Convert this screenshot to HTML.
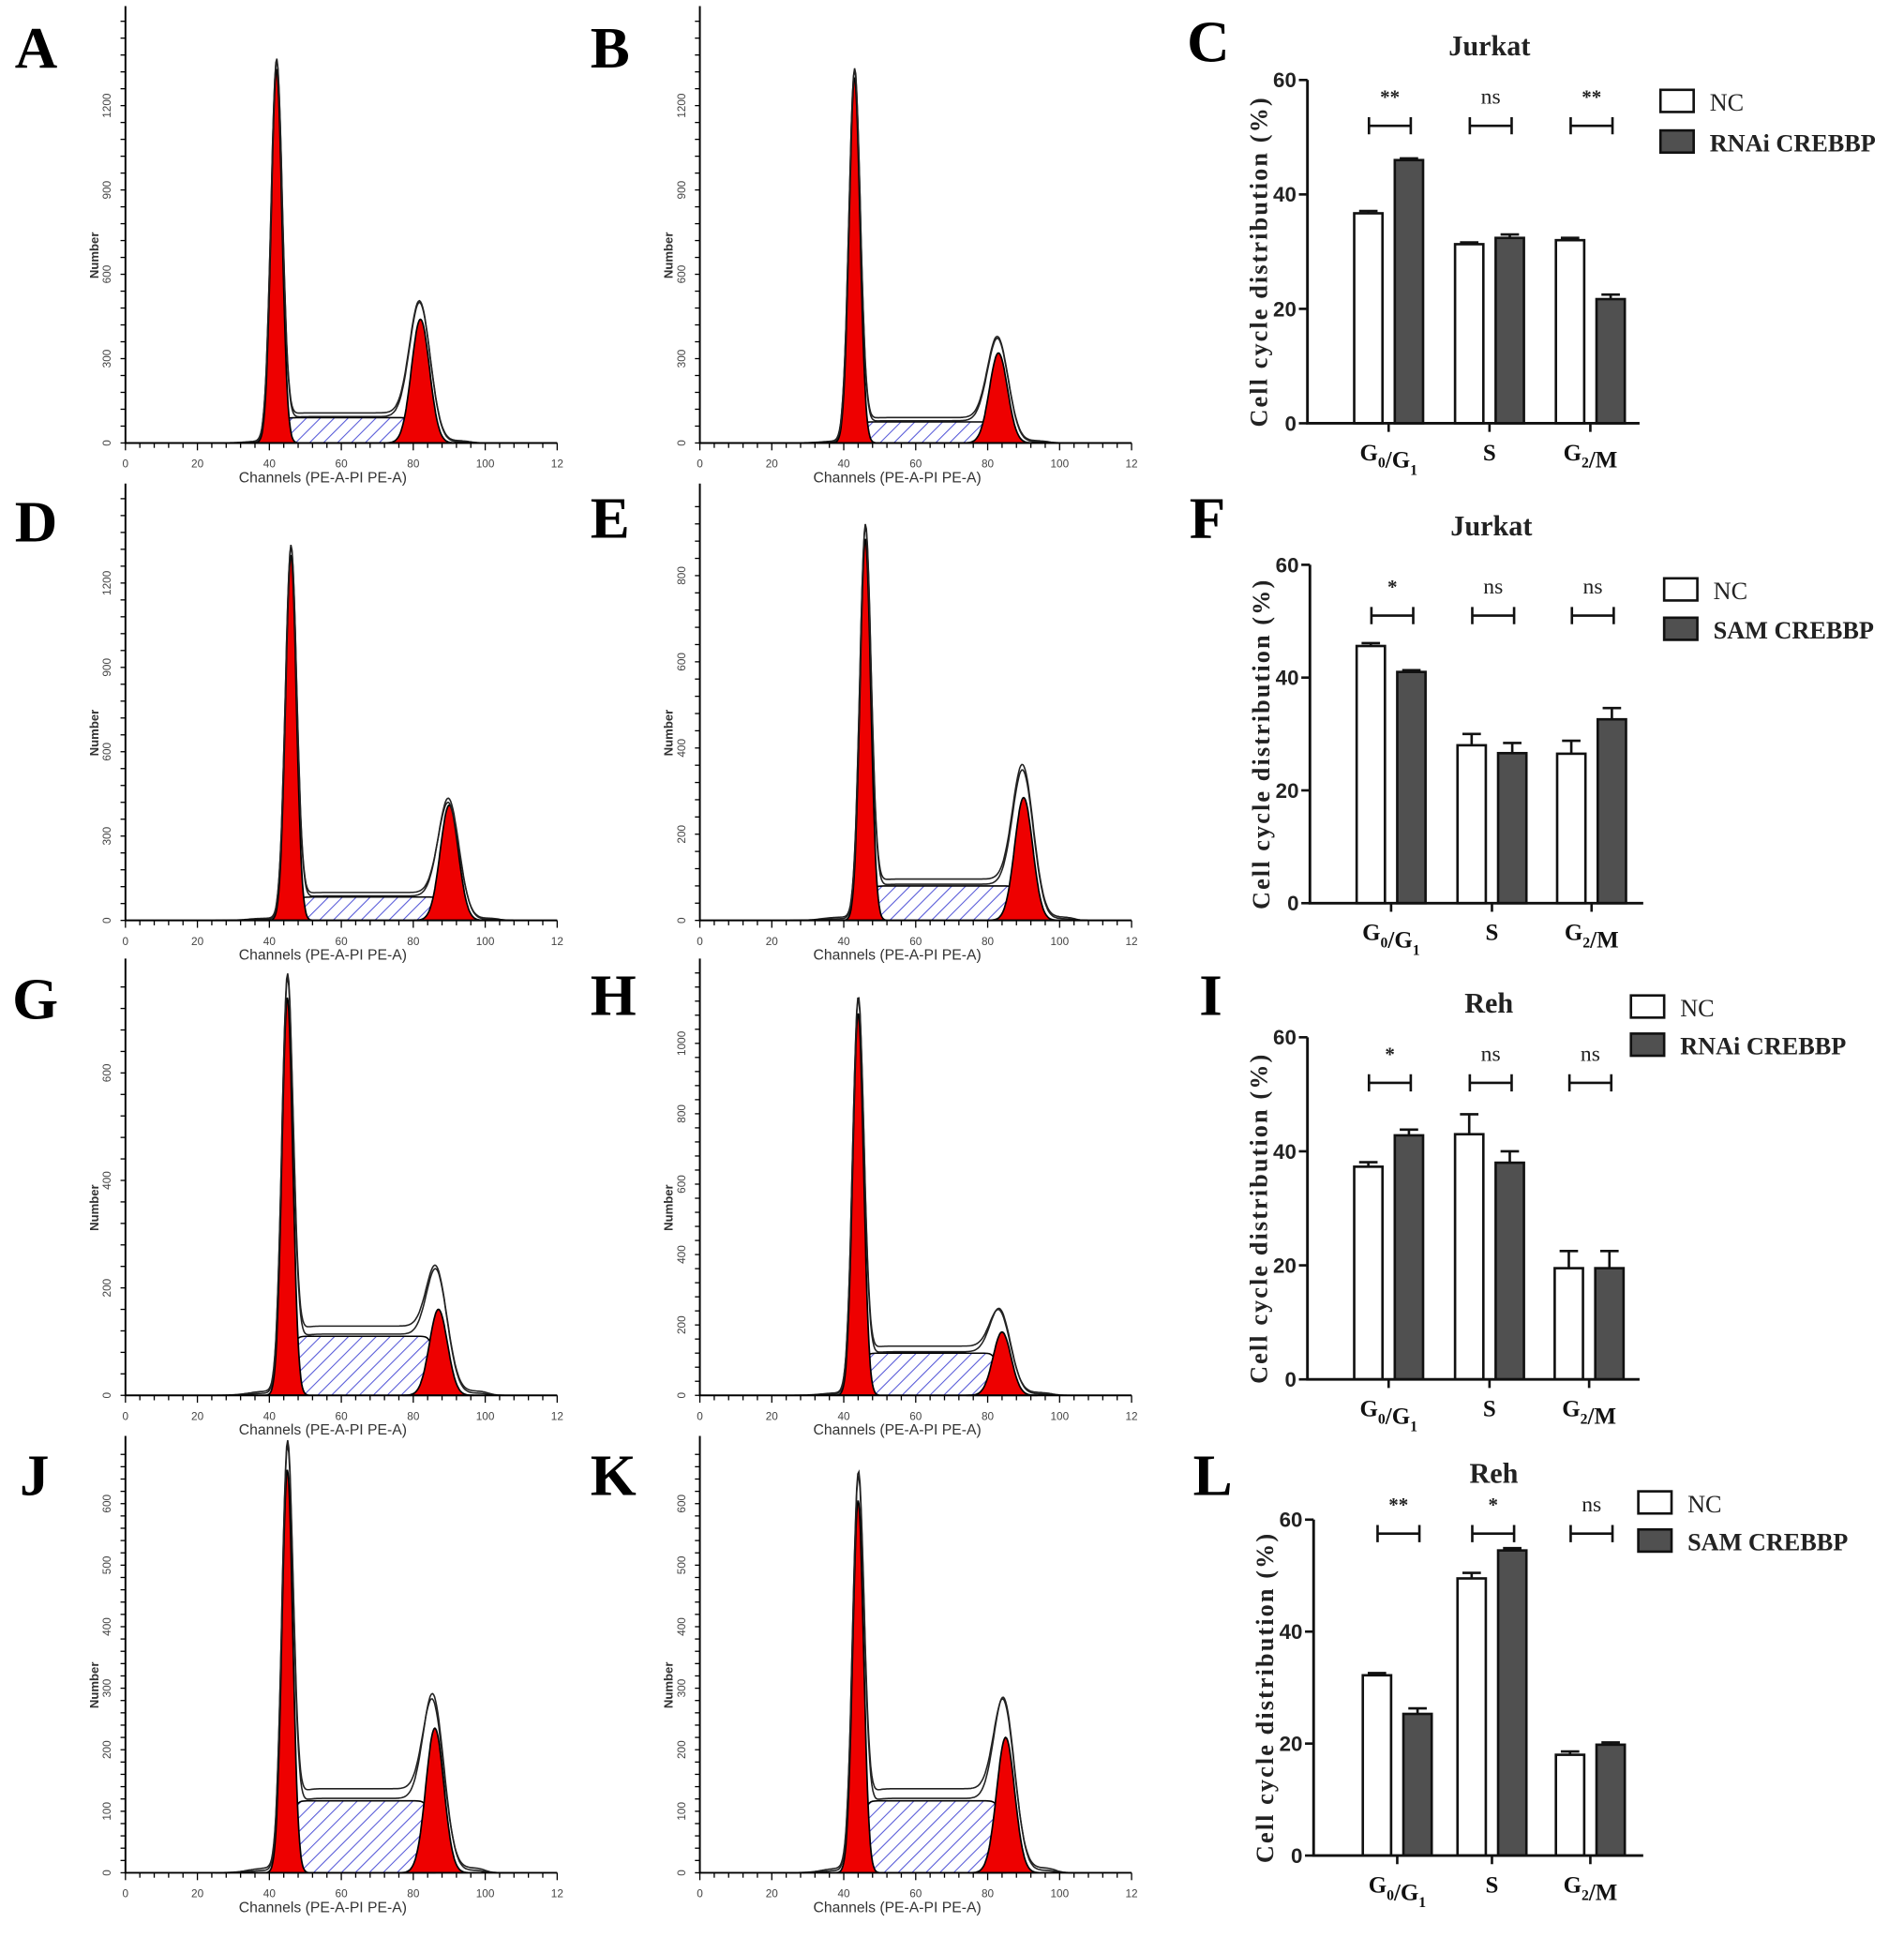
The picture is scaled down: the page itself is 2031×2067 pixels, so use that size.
<!DOCTYPE html>
<html><head><meta charset="utf-8"><style>
html,body{margin:0;padding:0;background:#fff;}
svg{display:block;}
</style></head><body>
<svg id="fig" width="2031" height="2067" viewBox="0 0 1548 1575" preserveAspectRatio="none" xmlns="http://www.w3.org/2000/svg" font-family="Liberation Sans, sans-serif">
<defs>
<pattern id="hatch" patternUnits="userSpaceOnUse" width="8" height="8" patternTransform="rotate(45)">
<rect width="8" height="8" fill="#fff"/><line x1="0" y1="0" x2="0" y2="8" stroke="#5558d8" stroke-width="1.6"/>
</pattern>
</defs>
<rect x="0" y="0" width="1548" height="1575" fill="#fff"/>
</svg>
<script>
// ---------- Histogram data ----------
const histNames = ['A','B','D','E','G','H','J','K'];
const histG1Channel = [42,43,46,46,45,44,45,44];
const histG1Count = [1330,1300,1300,885,740,1085,655,605];
const histG2Channel = [82,83,90,90,87,84,86,85];
const histG2RedCount = [440,320,410,285,160,180,235,220];
const histG2OutlineCount = [545,410,455,395,285,290,330,330];
const histSCount = [90,75,83,80,110,120,117,117];
const histYMax = [1510,1510,1510,985,790,1206,690,690];
const histYTicks = [[0,300,600,900,1200],[0,300,600,900,1200],[0,300,600,900,1200],[0,200,400,600,800],[0,200,400,600],[0,200,400,600,800,1000],[0,100,200,300,400,500,600],[0,100,200,300,400,500,600]];
const histXTicks = [0,20,40,60,80,100,120];

// ---------- Bar chart data ----------
const barPanels = ['C','F','I','L'];
const barTitles = ['Jurkat','Jurkat','Reh','Reh'];
const barLegend2 = ['RNAi CREBBP','SAM CREBBP','RNAi CREBBP','SAM CREBBP'];
const barCategories = ['G0/G1','S','G2/M'];
const ncValues = [[36.7,31.3,32.0],[45.6,28.0,26.5],[37.3,43.0,19.5],[32.2,49.5,18.0]];
const ncErrors = [[0.4,0.3,0.4],[0.5,2.0,2.3],[0.8,3.5,3.0],[0.4,1.0,0.6]];
const trtValues = [[46.0,32.4,21.7],[41.0,26.6,32.6],[42.8,38.0,19.5],[25.3,54.5,19.8]];
const trtErrors = [[0.3,0.6,0.8],[0.3,1.8,2.0],[1.0,2.0,3.0],[1.0,0.4,0.4]];
const sigLabels = [['**','ns','**'],['*','ns','ns'],['*','ns','ns'],['**','*','ns']];
const sigLevel = [52,51,52,57.5];
const barYTicks = [0,20,40,60];

const NS='http://www.w3.org/2000/svg';
const svg=document.getElementById('fig');
function mk(tag,attrs,parent){const e=document.createElementNS(NS,tag);for(const k in attrs)e.setAttribute(k,attrs[k]);(parent||svg).appendChild(e);return e;}
function txt(s,attrs,parent){const e=mk('text',attrs,parent);e.textContent=s;return e;}

const letters=[['A',12,55],['B',480,55],['C',965,50],['D',12,440],['E',480,437],['F',967,437],['G',10,828],['H',480,825],['I',975,825],['J',16,1215],['K',480,1215],['L',970,1215]];
letters.forEach(l=>{
  const t=txt(l[0],{x:l[1],y:l[2],'font-family':'Liberation Serif, serif','font-weight':'bold','font-size':48,fill:'#000'});
  
  
});

// ---------- Histograms ----------
const histX0=[102,569], histBase=[360,748,1134,1522], histW=351, histH=345;
function gauss(x,m,s){return Math.exp(-0.5*((x-m)/s)**2);}
function sig(z){return 1/(1+Math.exp(-z));}
histNames.forEach((name,i)=>{
  const col=i%2, row=Math.floor(i/2);
  const x0=histX0[col], base=histBase[row];
  const g=mk('g',{});
  
  
  const xs=c=>x0+c/120*histW;
  const ys=v=>base-v/histYMax[i]*histH;
  const g1=histG1Channel[i], g2=histG2Channel[i];
  const s1=1.5, s2=2.5;
  let sp=[];
  for(let c=g1;c<=g2+0.01;c+=0.5){sp.push([xs(c),ys(histSCount[i]*sig((c-g1-1)/0.6)*sig((g2-1-c)/0.6))]);}
  const sArea=mk('path',{d:'M'+xs(g1)+','+base+' L'+sp.map(p=>p[0].toFixed(1)+','+p[1].toFixed(1)).join(' L')+' L'+xs(g2)+','+base+' Z',fill:'url(#hatch)',stroke:'#000','stroke-width':1.2},g);
  
  
  [[g1,s1,histG1Count[i],'g1-peak'],[g2,s2,histG2RedCount[i],'g2-peak']].forEach(pk=>{
    let pts=[];
    for(let c=pk[0]-4*pk[1];c<=pk[0]+4*pk[1];c+=0.2){pts.push(xs(c).toFixed(1)+','+ys(pk[2]*gauss(c,pk[0],pk[1])).toFixed(1));}
    const p=mk('path',{d:'M'+pts.join(' L')+' Z',fill:'#ee0000',stroke:'#000','stroke-width':1.3},g);
    
    
  });
  [1.0,0.85].forEach((k,j)=>{
    let pts=[];
    const sv=histSCount[i]*(1.1-0.1*j);
    const g2o=histG2OutlineCount[i]-sv;
    const g2h=j?(histG2RedCount[i]+(g2o-histG2RedCount[i])*0.6):g2o;
    for(let c=25;c<=108;c+=0.3){
      let v=histG1Count[i]*gauss(c,g1,s1*1.05)+sv*sig((c-g1-1)/1.2)*sig((g2-c)/1.5)
        +g2h*gauss(c,g2,s2*1.15)
        +8*sig((c-34)/2)*sig((g2+14-c)/1)*(j?0.5:1);
      pts.push(xs(c).toFixed(1)+','+ys(v).toFixed(1));
    }
    const l=mk('polyline',{points:pts.join(' '),fill:'none',stroke:'#222','stroke-width':1.2},g);
    
    
  });
  const ax=mk('path',{d:`M${x0},${base-histH-10} L${x0},${base} L${x0+histW},${base}`,fill:'none',stroke:'#000','stroke-width':1.5},g);
  
  
  for(let c=0;c<=120;c+=4){mk('line',{x1:xs(c),y1:base,x2:xs(c),y2:base+(c%20==0?6:4),stroke:'#000','stroke-width':1},g);}
  histXTicks.forEach(c=>{
    const t=txt(c==120?'12':String(c),{x:xs(c),y:base+20,'font-size':9,'text-anchor':'middle',fill:'#444'},g);
    
    
  });
  const tstep=histYTicks[i][1]/5;
  for(let v=0;v<=histYMax[i];v+=tstep){mk('line',{x1:x0-4,y1:ys(v),x2:x0,y2:ys(v),stroke:'#000','stroke-width':1},g);}
  histYTicks[i].forEach(v=>{
    const t=txt(String(v),{x:x0-12,y:ys(v),'font-size':9,'text-anchor':'middle',fill:'#444',transform:`rotate(-90 ${x0-12} ${ys(v)})`},g);
    
    
  });
  const xt=txt('Channels (PE-A-PI PE-A)',{x:x0+histW/2-15,y:base+32,'font-size':12,'text-anchor':'middle',fill:'#333'},g);
  
  
  const yt=txt('Number',{x:x0-22,y:base-histH/2+20,'font-size':10,'font-weight':'bold','text-anchor':'middle',fill:'#333',transform:`rotate(-90 ${x0-22} ${base-histH/2+20})`},g);
  
  
});

// ---------- Bar charts ----------
const bAxisX=[1063,1065,1063,1068], bBase=[344,734,1121,1508], bTop=[65,459,843,1235], bRight=[1333,1336,1333,1336];
const bCatX=[[1129,1211,1293],[1131,1213,1294],[1129,1211,1292],[1136,1213,1293]];
const legX=[1350,1353,1326,1332], legY=[[73,106],[470,502],[809,840],[1212,1243]];
const titleOff=[20,24,20,30];
const bw=23;
barPanels.forEach((name,i)=>{
  const g=mk('g',{'font-family':'Liberation Serif, serif'});
  
  
  const ys=v=>bBase[i]-v/60*(bBase[i]-bTop[i]);
  const ax=bAxisX[i];
  barCategories.forEach((cat,k)=>{
    const cx=bCatX[i][k];
    [[ncValues[i][k],ncErrors[i][k],cx-28,'#fff','nc'],[trtValues[i][k],trtErrors[i][k],cx+5,'#505050','treatment']].forEach(b=>{
      const y=ys(b[0]);
      const r=mk('rect',{x:b[2],y:y,width:bw,height:bBase[i]-y,fill:b[3],stroke:'#111','stroke-width':2},g);
      
      
      const ye=ys(b[0]+b[1]);
      const e=mk('path',{d:`M${b[2]+bw/2},${y} L${b[2]+bw/2},${ye} M${b[2]+4},${ye} L${b[2]+bw-4},${ye}`,stroke:'#111','stroke-width':2},g);
      
      
    });
    const sy=ys(sigLevel[i]);
    const br=mk('path',{d:`M${cx-16},${sy-7} L${cx-16},${sy+7} M${cx-16},${sy} L${cx+18},${sy} M${cx+18},${sy-7} L${cx+18},${sy+7}`,stroke:'#111','stroke-width':2,fill:'none'},g);
    
    
    const st=txt(sigLabels[i][k],{x:cx+1,y:sy-18,'font-size':sigLabels[i][k]=='ns'?18:16,'font-weight':sigLabels[i][k]=='ns'?'normal':'bold','text-anchor':'middle',fill:'#222'},g);
    
    
    const cl=mk('text',{x:cx,y:bBase[i]+30,'font-size':19,'font-weight':'bold','text-anchor':'middle',fill:'#111'},g);
    
    
    const parts=cat=='G0/G1'?[['G',0],['0',1],['/G',0],['1',1]]:cat=='G2/M'?[['G',0],['2',1],['/M',0]]:[['S',0]];
    parts.forEach(p=>{const ts=document.createElementNS(NS,'tspan');ts.textContent=p[0];if(p[1]){ts.setAttribute('font-size','12');ts.setAttribute('dy','6');} cl.appendChild(ts);
      if(p[1]){const back=document.createElementNS(NS,'tspan');back.setAttribute('dy','-6');back.textContent='';cl.appendChild(back);}});
    mk('line',{x1:cx,y1:bBase[i],x2:cx,y2:bBase[i]+7,stroke:'#111','stroke-width':2},g);
  });
  const axp=mk('path',{d:`M${ax},${bTop[i]} L${ax},${bBase[i]} L${bRight[i]},${bBase[i]}`,fill:'none',stroke:'#111','stroke-width':2.2},g);
  
  
  barYTicks.forEach(v=>{
    mk('line',{x1:ax-7,y1:ys(v),x2:ax,y2:ys(v),stroke:'#111','stroke-width':2},g);
    const t=txt(String(v),{x:ax-9,y:ys(v)+6,'font-size':17,'font-weight':'bold','text-anchor':'end','font-family':'Liberation Sans, sans-serif',fill:'#222'},g);
    
    
  });
  const yc=(bTop[i]+bBase[i])/2+8;
  const yt=txt('Cell cycle distribution (%)',{x:ax-33,y:yc,'font-size':20,'font-weight':'bold','letter-spacing':1.6,'text-anchor':'middle',fill:'#222',transform:`rotate(-90 ${ax-33} ${yc})`},g);
  
  
  const tt=txt(barTitles[i],{x:(bCatX[i][0]+bCatX[i][2])/2,y:bTop[i]-titleOff[i],'font-size':23,'font-weight':'bold','text-anchor':'middle',fill:'#222'},g);
  
  
  [['NC','#fff'],[barLegend2[i],'#505050']].forEach((l,j)=>{
    const r=mk('rect',{x:legX[i],y:legY[i][j],width:27,height:18,fill:l[1],stroke:'#111','stroke-width':2},g);
    
    
    const t=txt(l[0],{x:legX[i]+40,y:legY[i][j]+17,'font-size':20,'font-weight':j?'bold':'normal',fill:'#222'},g);
    
    
  });
});
</script>
</body></html>
